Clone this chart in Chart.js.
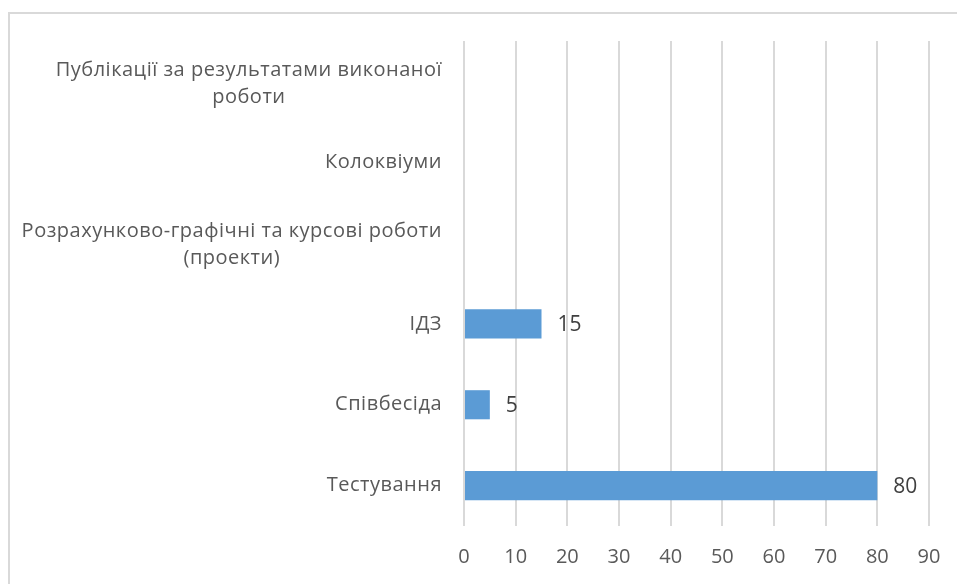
<!DOCTYPE html>
<html>
<head>
<meta charset="utf-8">
<script src="https://cdn.jsdelivr.net/npm/chart.js@4"></script>
<style>
  html, body { margin: 0; padding: 0; background: #fff; overflow: hidden; }
  #frame { position: absolute; left: 8px; top: 12px; width: 1000px; height: 1000px; border: 2px solid #d9d9d9; box-sizing: border-box; }
  #wrap { position: absolute; left: 0; top: 0; width: 957px; height: 584px; }
</style>
</head>
<body>
<div id="frame"></div>
<div id="wrap"><canvas id="myChart" width="957" height="584"></canvas></div>
<script>
const categories = [
  ["Публікації за результатами виконаної", "роботи"],
  ["Колоквіуми"],
  ["Розрахунково-графічні та курсові роботи", "(проекти)"],
  ["ІДЗ"],
  ["Співбесіда"],
  ["Тестування"],
];
const values = [null, null, null, 15, 5, 80];
const xTicks = [0, 10, 20, 30, 40, 50, 60, 70, 80, 90];

const labelFont = "20px 'Open Sans', sans-serif";

// category labels: each block right-aligned, lines centred inside the block
const categoryLabels = {
  id: "categoryLabels",
  afterDraw(chart) {
    const { ctx, scales } = chart;
    const right = chart.chartArea.left - 22;
    const lineH = 27;
    ctx.save();
    ctx.font = labelFont;
    ctx.letterSpacing = "0.5px";
    ctx.fillStyle = "#595959";
    ctx.textAlign = "center";
    ctx.textBaseline = "middle";
    categories.forEach((lines, i) => {
      const y = scales.y.getPixelForValue(i);
      const w = Math.max(...lines.map((l) => ctx.measureText(l).width));
      const cx = right - w / 2;
      const top = y - ((lines.length - 1) * lineH) / 2 + (lines.length > 1 ? 2 : 0);
      lines.forEach((l, k) => ctx.fillText(l, cx, top + k * lineH));
    });
    ctx.restore();
  },
};

// value labels at the end of each bar
const valueLabels = {
  id: "valueLabels",
  afterDatasetsDraw(chart) {
    const { ctx } = chart;
    const meta = chart.getDatasetMeta(0);
    ctx.save();
    ctx.font = "21px 'Open Sans', sans-serif";
    ctx.fillStyle = "#404040";
    ctx.textAlign = "left";
    ctx.textBaseline = "middle";
    meta.data.forEach((bar, i) => {
      if (values[i] == null) return;
      ctx.fillText(String(values[i]), bar.x + 16, bar.y + 1);
    });
    ctx.restore();
  },
};

const ctx = document.querySelector("#myChart").getContext("2d");

const myChart = new Chart(ctx, {
  type: "bar",
  data: {
    labels: categories.map((c) => c.join(" ")),
    datasets: [
      {
        data: values,
        backgroundColor: "#5b9bd5",
        barPercentage: 0.36,
        categoryPercentage: 1,
      },
    ],
  },
  options: {
    indexAxis: "y",
    responsive: false,
    animation: false,
    layout: { padding: { top: 41, right: 28, left: 0, bottom: 0 } },
    scales: {
      x: {
        min: 0,
        max: 90,
        afterBuildTicks: (scale) => {
          scale.ticks = xTicks.map((v) => ({ value: v }));
        },
        afterFit: (scale) => {
          scale.height = 58;
          scale.paddingRight = 0;
        },
        ticks: {
          color: "#595959",
          font: { family: "'Open Sans', sans-serif", size: 20 },
          padding: 19,
        },
        grid: { color: "#d9d9d9", lineWidth: 2, drawTicks: false },
        border: { display: false },
      },
      y: {
        afterFit: (scale) => {
          scale.width = 464;
        },
        ticks: { display: false },
        grid: { display: false },
        border: { display: false },
      },
    },
    plugins: {
      legend: { display: false },
      tooltip: { enabled: false },
    },
  },
  plugins: [categoryLabels, valueLabels],
});
</script>
</body>
</html>
